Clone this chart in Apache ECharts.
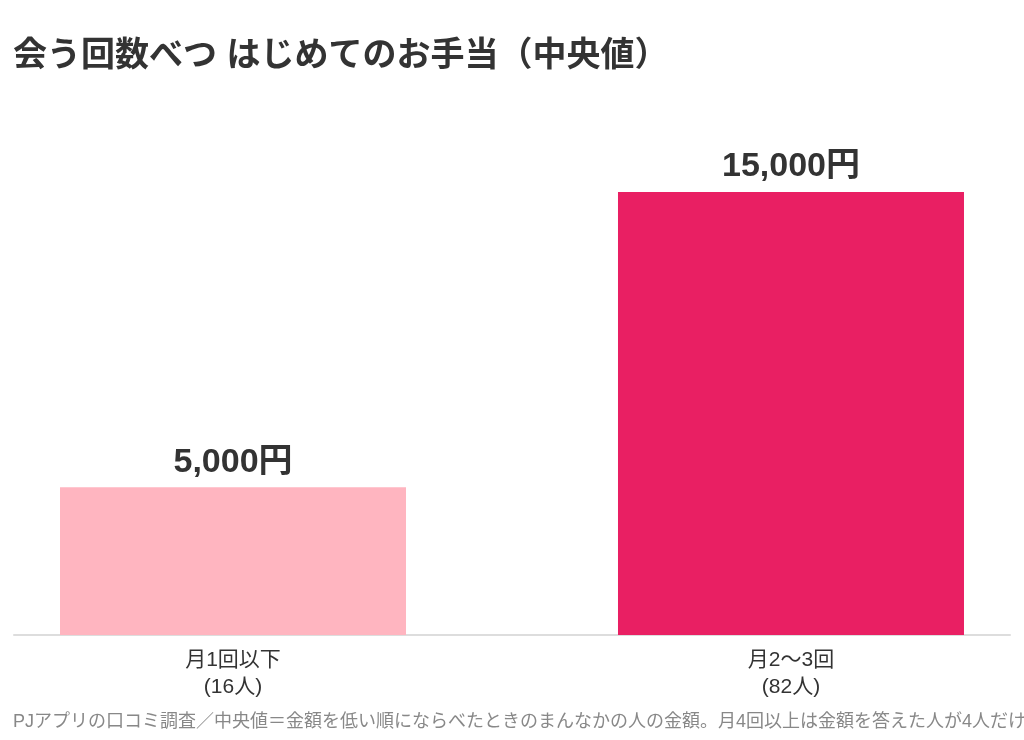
<!DOCTYPE html>
<html>
<head>
<meta charset="utf-8">
<script src="https://cdn.jsdelivr.net/npm/echarts@6/dist/echarts.min.js"></script>
<style>
  html, body { margin: 0; padding: 0; background: #fff; }
  #main { width: 1024px; height: 740px; }
</style>
</head>
<body>
<div id="main"></div>
<script>
// データ
const categories = ['月1回以下\n(16人)', '月2〜3回\n(82人)']
const values = [5000, 15000]
const barColors = ['#FFB5C0', '#E91F63']
const titleText = '会う回数べつ はじめてのお手当（中央値）'
const noteText = 'PJアプリの口コミ調査／中央値＝金額を低い順にならべたときのまんなかの人の金額。月4回以上は金額を答えた人が4人だけ'

const font = '"Liberation Sans", "Noto Sans CJK JP", sans-serif'

const chart = echarts.init(document.getElementById('main'))

const option = {
  backgroundColor: '#fff',
  animation: false,
  title: [
    {
      text: titleText,
      left: 8,
      top: 35,
      textStyle: { fontFamily: font, fontSize: 34, fontWeight: 'bold', color: '#333' }
    },
    {
      text: noteText,
      left: 8,
      top: 708,
      textStyle: { fontFamily: font, fontSize: 18, fontWeight: 'normal', color: '#888' }
    }
  ],
  grid: { left: 14, right: 14, top: 192, bottom: 105 },
  xAxis: {
    // 棒の中心位置を合わせるため数値軸で配置
    type: 'value',
    min: -0.3925,
    max: 1.3925,
    splitLine: { show: false },
    axisLine: { show: true, onZero: false, lineStyle: { color: '#dddddd', width: 2 } },
    axisTick: { show: false },
    axisLabel: {
      customValues: [0, 1],
      formatter: v => categories[Math.round(v)],
      fontFamily: font,
      fontSize: 21,
      color: '#333',
      lineHeight: 27,
      margin: 12
    }
  },
  yAxis: { type: 'value', min: 0, max: 15000, show: false },
  series: [
    {
      type: 'bar',
      barWidth: 346,
      data: values.map((v, i) => ({ value: [i, v], itemStyle: { color: barColors[i] } })),
      label: {
        show: true,
        position: 'top',
        distance: 8,
        fontFamily: font,
        fontSize: 34,
        fontWeight: 'bold',
        color: '#333',
        formatter: p => p.value[1].toLocaleString('en-US') + '円'
      }
    }
  ]
}

chart.setOption(option)
</script>
</body>
</html>
